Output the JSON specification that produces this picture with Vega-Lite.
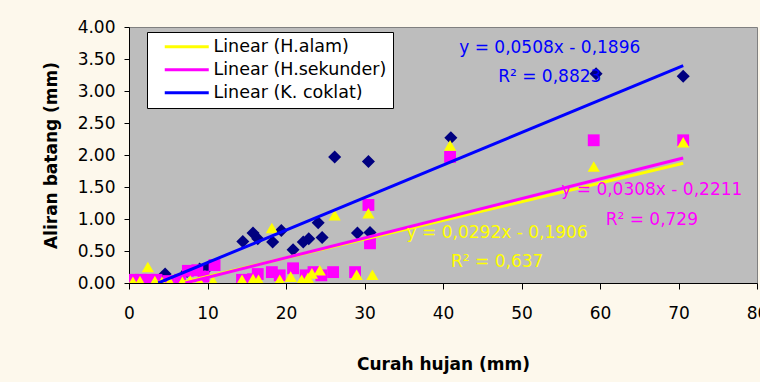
{
  "$schema": "https://vega.github.io/schema/vega-lite/v6.json",
  "width": 628,
  "height": 256,
  "autosize": {"type": "none"},
  "padding": {"left": 129, "top": 27, "right": 3, "bottom": 99},
  "background": "#fdf8ec",
  "config": {
    "view": {"fill": "#bdbdbd", "stroke": "#808080", "strokeWidth": 1},
    "font": "DejaVu Sans",
    "axis": {
      "labelFont": "DejaVu Sans",
      "labelFontSize": 17,
      "labelColor": "#000000",
      "domainColor": "#000000",
      "tickColor": "#000000",
      "grid": false,
      "titleFont": "DejaVu Sans",
      "titleFontWeight": "bold",
      "titleFontSize": 17,
      "titleColor": "#000000"
    }
  },
  "datasets": {
    "points": [
      {"series": "K. coklat", "rain": 0.5, "flow": 0.0},
      {"series": "K. coklat", "rain": 1.5, "flow": 0.0},
      {"series": "K. coklat", "rain": 2.5, "flow": 0.02},
      {"series": "K. coklat", "rain": 3.5, "flow": 0.02},
      {"series": "K. coklat", "rain": 4.6, "flow": 0.14},
      {"series": "K. coklat", "rain": 7.4, "flow": 0.18},
      {"series": "K. coklat", "rain": 9.0, "flow": 0.22},
      {"series": "K. coklat", "rain": 10.1, "flow": 0.25},
      {"series": "K. coklat", "rain": 14.5, "flow": 0.65},
      {"series": "K. coklat", "rain": 15.8, "flow": 0.78},
      {"series": "K. coklat", "rain": 16.4, "flow": 0.69},
      {"series": "K. coklat", "rain": 18.3, "flow": 0.64},
      {"series": "K. coklat", "rain": 19.4, "flow": 0.82},
      {"series": "K. coklat", "rain": 20.9, "flow": 0.52},
      {"series": "K. coklat", "rain": 22.2, "flow": 0.64},
      {"series": "K. coklat", "rain": 22.9, "flow": 0.69},
      {"series": "K. coklat", "rain": 24.1, "flow": 0.94},
      {"series": "K. coklat", "rain": 24.6, "flow": 0.71},
      {"series": "K. coklat", "rain": 26.2, "flow": 1.97},
      {"series": "K. coklat", "rain": 29.1, "flow": 0.78},
      {"series": "K. coklat", "rain": 30.7, "flow": 0.79},
      {"series": "K. coklat", "rain": 30.5, "flow": 1.9},
      {"series": "K. coklat", "rain": 41.0, "flow": 2.27},
      {"series": "K. coklat", "rain": 59.5, "flow": 3.27},
      {"series": "K. coklat", "rain": 70.6, "flow": 3.23},
      {"series": "H.sekunder", "rain": 0.5, "flow": 0.05},
      {"series": "H.sekunder", "rain": 1.5, "flow": 0.05},
      {"series": "H.sekunder", "rain": 2.5, "flow": 0.05},
      {"series": "H.sekunder", "rain": 3.5, "flow": 0.05},
      {"series": "H.sekunder", "rain": 5.0, "flow": 0.03},
      {"series": "H.sekunder", "rain": 6.5, "flow": 0.05},
      {"series": "H.sekunder", "rain": 7.5, "flow": 0.19},
      {"series": "H.sekunder", "rain": 8.7, "flow": 0.2},
      {"series": "H.sekunder", "rain": 9.5, "flow": 0.1},
      {"series": "H.sekunder", "rain": 10.9, "flow": 0.28},
      {"series": "H.sekunder", "rain": 14.4, "flow": 0.05},
      {"series": "H.sekunder", "rain": 15.8, "flow": 0.06},
      {"series": "H.sekunder", "rain": 16.4, "flow": 0.14},
      {"series": "H.sekunder", "rain": 18.2, "flow": 0.17},
      {"series": "H.sekunder", "rain": 19.2, "flow": 0.12},
      {"series": "H.sekunder", "rain": 20.9, "flow": 0.23},
      {"series": "H.sekunder", "rain": 22.5, "flow": 0.12},
      {"series": "H.sekunder", "rain": 23.5, "flow": 0.17},
      {"series": "H.sekunder", "rain": 24.5, "flow": 0.12},
      {"series": "H.sekunder", "rain": 26.0, "flow": 0.17},
      {"series": "H.sekunder", "rain": 28.8, "flow": 0.17},
      {"series": "H.sekunder", "rain": 30.5, "flow": 1.22},
      {"series": "H.sekunder", "rain": 30.7, "flow": 0.62},
      {"series": "H.sekunder", "rain": 40.9, "flow": 1.97},
      {"series": "H.sekunder", "rain": 59.2, "flow": 2.23},
      {"series": "H.sekunder", "rain": 70.6, "flow": 2.23},
      {"series": "H.alam", "rain": 0.5, "flow": 0.02},
      {"series": "H.alam", "rain": 1.4, "flow": 0.03},
      {"series": "H.alam", "rain": 2.4, "flow": 0.25},
      {"series": "H.alam", "rain": 3.3, "flow": 0.03},
      {"series": "H.alam", "rain": 4.2, "flow": 0.02},
      {"series": "H.alam", "rain": 5.2, "flow": 0.02},
      {"series": "H.alam", "rain": 6.8, "flow": 0.02},
      {"series": "H.alam", "rain": 7.8, "flow": 0.04},
      {"series": "H.alam", "rain": 9.0, "flow": 0.02},
      {"series": "H.alam", "rain": 10.7, "flow": 0.03},
      {"series": "H.alam", "rain": 14.4, "flow": 0.05},
      {"series": "H.alam", "rain": 15.8, "flow": 0.06},
      {"series": "H.alam", "rain": 16.5, "flow": 0.05},
      {"series": "H.alam", "rain": 18.2, "flow": 0.86},
      {"series": "H.alam", "rain": 19.2, "flow": 0.05},
      {"series": "H.alam", "rain": 20.6, "flow": 0.1},
      {"series": "H.alam", "rain": 22.0, "flow": 0.05},
      {"series": "H.alam", "rain": 22.8, "flow": 0.08},
      {"series": "H.alam", "rain": 23.3, "flow": 0.15},
      {"series": "H.alam", "rain": 24.3, "flow": 0.2},
      {"series": "H.alam", "rain": 26.2, "flow": 1.06},
      {"series": "H.alam", "rain": 29.0, "flow": 0.13},
      {"series": "H.alam", "rain": 30.5, "flow": 1.09},
      {"series": "H.alam", "rain": 31.0, "flow": 0.13},
      {"series": "H.alam", "rain": 40.9, "flow": 2.15},
      {"series": "H.alam", "rain": 59.2, "flow": 1.82},
      {"series": "H.alam", "rain": 70.6, "flow": 2.2}
    ],
    "trend": [
      {"series": "Linear (H.alam)", "rain": 6.53, "flow": 0.0},
      {"series": "Linear (H.alam)", "rain": 70.6, "flow": 1.871},
      {"series": "Linear (H.sekunder)", "rain": 7.18, "flow": 0.0},
      {"series": "Linear (H.sekunder)", "rain": 70.6, "flow": 1.953},
      {"series": "Linear (K. coklat)", "rain": 3.73, "flow": 0.0},
      {"series": "Linear (K. coklat)", "rain": 70.6, "flow": 3.397}
    ],
    "labels": [
      {"series": "K. coklat", "rain": 53.6, "flow": 3.67, "text": "y = 0,0508x - 0,1896"},
      {"series": "K. coklat", "rain": 53.6, "flow": 3.22, "text": "R² = 0,8823"},
      {"series": "H.sekunder", "rain": 66.6, "flow": 1.45, "text": "y = 0,0308x - 0,2211"},
      {"series": "H.sekunder", "rain": 66.6, "flow": 0.98, "text": "R² = 0,729"},
      {"series": "H.alam", "rain": 46.9, "flow": 0.78, "text": "y = 0,0292x - 0,1906"},
      {"series": "H.alam", "rain": 46.9, "flow": 0.33, "text": "R² = 0,637"}
    ]
  },
  "encoding": {
    "x": {
      "field": "rain",
      "type": "quantitative",
      "scale": {"domain": [0, 80], "nice": false},
      "axis": {
        "title": "Curah hujan (mm)",
        "values": [0, 10, 20, 30, 40, 50, 60, 70, 80],
        "tickSize": 6,
        "labelPadding": 16,
        "titlePadding": 35,
        "labelFlush": false,
        "labelOverlap": false
      }
    },
    "y": {
      "field": "flow",
      "type": "quantitative",
      "scale": {"domain": [0, 4], "nice": false},
      "axis": {
        "title": "Aliran batang (mm)",
        "values": [0, 0.5, 1, 1.5, 2, 2.5, 3, 3.5, 4],
        "format": ".2f",
        "tickSize": 5,
        "labelPadding": 9,
        "titlePadding": 17,
        "labelFlush": false,
        "labelOverlap": false
      }
    }
  },
  "layer": [
    {
      "data": {"name": "points"},
      "transform": [{"filter": "datum.series === 'K. coklat'"}],
      "mark": {"type": "point", "shape": "diamond", "filled": true, "color": "#000080", "opacity": 1, "size": 170, "clip": true}
    },
    {
      "data": {"name": "points"},
      "transform": [{"filter": "datum.series === 'H.sekunder'"}],
      "mark": {"type": "point", "shape": "square", "filled": true, "color": "#FF00FF", "opacity": 1, "size": 140, "clip": true}
    },
    {
      "data": {"name": "points"},
      "transform": [{"filter": "datum.series === 'H.alam'"}],
      "mark": {"type": "point", "shape": "triangle-up", "filled": true, "color": "#FFFF00", "opacity": 1, "size": 150, "clip": true}
    },
    {
      "data": {"name": "trend"},
      "mark": {"type": "line", "strokeWidth": 3, "clip": true},
      "encoding": {
        "color": {
          "field": "series",
          "type": "nominal",
          "scale": {
            "domain": ["Linear (H.alam)", "Linear (H.sekunder)", "Linear (K. coklat)"],
            "range": ["#FFFF00", "#FF00FF", "#0000FF"]
          },
          "legend": {
            "title": null,
            "orient": "none",
            "legendX": 18,
            "legendY": 5,
            "fillColor": "#FFFFFF",
            "strokeColor": "#000000",
            "padding": 6,
            "labelFont": "DejaVu Sans",
            "labelFontSize": 17.5,
            "labelColor": "#000000",
            "labelLimit": 400,
            "symbolType": "M-4,0H4",
            "symbolSize": 121,
            "symbolStrokeWidth": 3,
            "symbolOffset": 25,
            "labelOffset": 18,
            "rowPadding": 4
          }
        }
      }
    },
    {
      "data": {"name": "labels"},
      "mark": {"type": "text", "font": "DejaVu Sans", "fontSize": 17, "align": "center", "baseline": "middle"},
      "encoding": {
        "text": {"field": "text", "type": "nominal"},
        "color": {
          "field": "series",
          "type": "nominal",
          "scale": {
            "domain": ["H.alam", "H.sekunder", "K. coklat"],
            "range": ["#FFFF00", "#FF00FF", "#0000FF"]
          },
          "legend": null
        }
      }
    }
  ],
  "resolve": {"scale": {"color": "independent"}}
}
